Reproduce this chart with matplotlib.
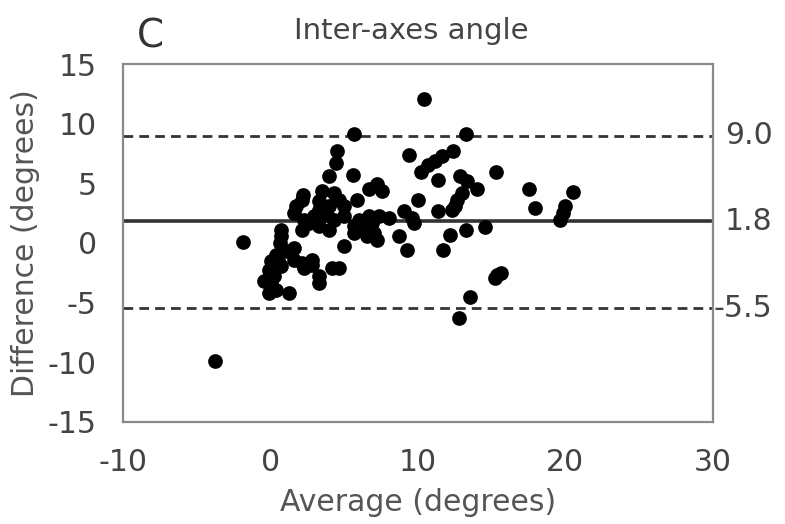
import matplotlib
matplotlib.use("Agg")
import matplotlib.pyplot as plt
import matplotlib.transforms as mtransforms

average = [10.44, 5.67, 13.27, 4.48, 4.41, 9.42, 12.38, 11.64, 11.12, 10.70,
           10.20, 15.31, 3.97, 5.57, 11.36, 12.83, 13.34, 14.02, 17.50, 20.49,
           7.21, 7.56, 6.69, 2.20, 2.10, 3.46, 4.31, 4.65, 5.84, 5.00,
           3.29, 3.97, 3.29, 1.75, 1.58, 3.80, 10.03, 13.00, 12.66, 12.49,
           12.32, 17.94, 19.98, 19.81, 19.64, 11.36, 9.08, 9.59, 9.76, 7.38,
           8.06, 6.69, 6.01, 6.87, 5.67, 6.35, 7.03, 7.21, 6.52, 5.67,
           5.00, 4.31, 3.97, 3.29, 2.61, 2.10, 2.27, 2.95, 0.73, 0.73,
           0.66, -1.89, 5.00, 8.74, 9.25, 12.15, 11.70, 13.24, 14.53, 1.58,
           1.07, 0.39, 0.05, 0.56, 1.58, 2.10, 2.78, 2.27, -0.12, 0.73,
           0.22, -0.46, 0.05, -0.12, 0.39, 1.24, 3.29, 3.29, 4.14, 4.65,
           2.78, 15.38, 15.65, 15.21, 13.51, 12.76, -3.80]
difference = [12.06, 9.13, 9.13, 7.67, 6.69, 7.39, 7.73, 7.31, 6.83, 6.55,
              5.91, 5.94, 5.57, 5.66, 5.29, 5.57, 5.15, 4.53, 4.53, 4.23,
              4.92, 4.37, 4.51, 4.03, 3.62, 4.31, 4.17, 3.62, 3.62, 3.06,
              3.53, 3.06, 2.78, 3.06, 2.50, 2.36, 3.62, 4.17, 3.62, 3.06,
              2.78, 2.92, 3.06, 2.50, 1.94, 2.64, 2.69, 2.08, 1.66, 2.27,
              2.08, 2.22, 1.94, 1.66, 1.38, 1.10, 0.82, 0.26, 0.54, 0.82,
              2.22, 1.94, 1.10, 1.38, 1.66, 1.10, 1.94, 2.22, 1.10, 0.54,
              -0.02, 0.03, -0.30, 0.54, -0.58, 0.68, -0.58, 1.10, 1.29, -0.44,
              -0.72, -1.00, -1.56, -1.70, -1.42, -1.70, -1.84, -2.12, -2.26, -1.98,
              -2.82, -3.24, -3.38, -4.22, -3.94, -4.22, -2.82, -3.38, -2.12, -2.12,
              -1.42, -2.68, -2.54, -2.96, -4.50, -6.32, -9.90]

mean_diff = 1.8
upper_loa = 9.0
lower_loa = -5.5
ref_lines = [upper_loa, mean_diff, lower_loa]
ref_labels = ["9.0", "1.8", "-5.5"]
x_ticks = [-10, 0, 10, 20, 30]
y_ticks = [-15, -10, -5, 0, 5, 10, 15]

plt.rcParams['font.family'] = ['DejaVu Sans']
fig = plt.figure(figsize=(7.85, 5.24), dpi=100)
ax = fig.add_axes([123.3/785, (524-421.7)/524, (712.7-123.3)/785, (421.7-64)/524])

ax.scatter(average, difference, s=112, color='black', zorder=3, linewidths=0)
ax.axhline(mean_diff, color='#333333', lw=2.6, zorder=2)
for v in (upper_loa, lower_loa):
    ax.axhline(v, color='#333333', lw=2.0, ls=(0, (3.5, 2.2)), zorder=2)

ax.set_xlim(-10, 30)
ax.set_ylim(-15, 15)
ax.set_xticks(x_ticks)
ax.set_yticks(y_ticks)
ax.set_xticklabels([str(t) for t in x_ticks])
ax.set_yticklabels([str(t) for t in y_ticks])
ax.tick_params(length=0, pad=19, labelsize=21.5, labelcolor='#444444')

for sp in ax.spines.values():
    sp.set_color('#8a8a8a')
    sp.set_linewidth(1.6)

trans = mtransforms.blended_transform_factory(ax.transAxes, ax.transData)
offset = mtransforms.ScaledTranslation(60/100, 0, fig.dpi_scale_trans)
for v, lab in zip(ref_lines, ref_labels):
    ax.text(1.0, v, lab, transform=trans + offset, ha='right', va='center',
            fontsize=21.5, color='#444444')

ax.set_xlabel("Average (degrees)", fontsize=21.5, color='#555555', labelpad=8)
ax.set_ylabel("Difference (degrees)", fontsize=21.5, color='#555555', labelpad=6)

fig.text(411/785, 1 - 31/524, "Inter-axes angle", ha='center', va='center',
         fontsize=21, color='#444444')
fig.text(150/785, 1 - 36/524, "C", ha='center', va='center',
         fontsize=28, color='#333333')

fig.savefig("out.png", dpi=100)
